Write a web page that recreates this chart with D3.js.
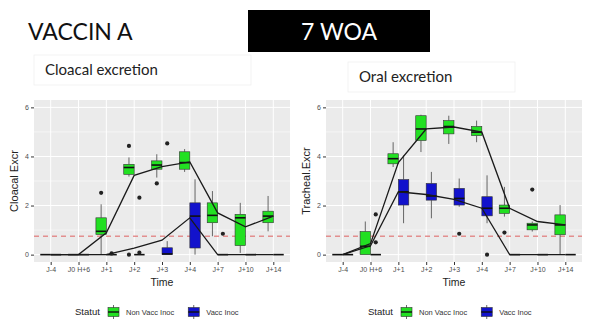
<!DOCTYPE html>
<html>
<head>
<meta charset="utf-8">
<script src="https://cdn.jsdelivr.net/npm/d3@7"></script>
<style>
  html, body { margin: 0; padding: 0; background: #fff; }
  svg { display: block; }
</style>
</head>
<body>
<svg id="chart" width="590" height="325"></svg>
<script>
// Sampling days (discrete x axis)
const days = ["J-4", "J0 H+6", "J+1", "J+2", "J+3", "J+4", "J+7", "J+10", "J+14"];
const groups = ["Non Vacc Inoc", "Vacc Inoc"];
const threshold = 0.75;
const yTicks = [0, 2, 4, 6];

// Box summaries per day: [lower whisker, Q1, median, Q3, upper whisker]
const cloacalNonVacc = [
  [0, 0, 0, 0, 0], [0, 0, 0, 0, 0], [0, 0.82, 0.95, 1.5, 2.05],
  [3.18, 3.27, 3.55, 3.68, 3.96], [3.14, 3.48, 3.65, 3.82, 4.09], [3.37, 3.48, 3.75, 4.19, 4.3],
  [0.75, 1.3, 1.6, 2.11, 2.59], [0.07, 0.37, 1.5, 1.64, 2.11], [0.95, 1.3, 1.57, 1.77, 2.39]
];
const cloacalVacc = [
  [0, 0, 0, 0, 0], [0, 0, 0, 0, 0], [0, 0, 0, 0, 0],
  [0, 0, 0, 0, 0], [0, 0, 0.03, 0.28, 0.55], [0, 0.27, 1.57, 2.11, 3.07],
  [0, 0, 0, 0, 0], [0, 0, 0, 0, 0], [0, 0, 0, 0, 0]
];
// Group means per day (joined by a line)
const cloacalNonVaccMean = [0, 0, 0.89, 3.23, 3.59, 3.78, 1.7, 1.13, 1.57];
const cloacalVaccMean = [0, 0, 0, 0.27, 0.59, 1.5, 0, 0, 0];
// Outliers: [day index, value]
const cloacalNonVaccOut = [[2, 2.52], [3, 4.43], [3, 0], [4, 2.9]];
const cloacalVaccOut = [[2, 0.05], [3, 2.32], [3, 0.08], [4, 4.53], [6, 0.85]];

const trachealNonVacc = [
  [0, 0, 0, 0, 0], [0, 0, 0.34, 0.94, 1.35], [3.57, 3.7, 3.91, 4.11, 4.58],
  [4.18, 4.65, 5.12, 5.66, 5.7], [4.51, 4.92, 5.22, 5.46, 5.66], [4.58, 4.85, 4.99, 5.22, 5.46],
  [1.55, 1.68, 1.89, 2.02, 2.76], [0.94, 1.01, 1.21, 1.28, 1.35], [0, 0.81, 1.21, 1.62, 2.02]
];
const trachealVacc = [
  [0, 0, 0, 0, 0], [0, 0, 0, 0, 0], [1.28, 2.02, 2.56, 3.06, 4.04],
  [1.48, 2.22, 2.39, 2.9, 3.37], [1.95, 2.02, 2.29, 2.7, 3.1], [1.28, 1.58, 1.89, 2.36, 3.23],
  [0, 0, 0, 0, 0], [0, 0, 0, 0, 0], [0, 0, 0, 0, 0]
];
const trachealNonVaccMean = [0, 0.45, 3.75, 5.12, 5.2, 4.99, 1.89, 1.35, 1.21];
const trachealVaccMean = [0, 0.36, 2.56, 2.45, 2.25, 1.89, 0, 0, 0];
const trachealNonVaccOut = [[6, 0.9], [7, 2.65]];
const trachealVaccOut = [[1, 1.64], [1, 0.5], [4, 0.85], [5, 0]];

const fills = { "Non Vacc Inoc": "#22e022", "Vacc Inoc": "#1212cc" };

const svg = d3.select("#chart");
const headFont = "Lato, 'Open Sans', sans-serif";
const plotFont = "'Liberation Sans', Arial, sans-serif";

// Header
svg.append("text").attr("x", 28).attr("y", 40)
  .attr("font-family", headFont).attr("font-size", 23).attr("fill", "#111")
  .text("VACCIN A");
svg.append("rect").attr("x", 248).attr("y", 10).attr("width", 182).attr("height", 42).attr("fill", "#000");
svg.append("text").attr("x", 339).attr("y", 40).attr("text-anchor", "middle")
  .attr("font-family", headFont).attr("font-size", 23).attr("fill", "#fff")
  .text("7 WOA");

function subtitle(x, y, w, h, label) {
  svg.append("rect").attr("x", x).attr("y", y).attr("width", w).attr("height", h)
    .attr("fill", "#fff").attr("stroke", "#f0f0f0").attr("stroke-width", 0.8);
  svg.append("text").attr("x", x + 11).attr("y", y + h / 2 + 5)
    .attr("font-family", headFont).attr("font-size", 15).attr("fill", "#222")
    .text(label);
}
subtitle(34, 55, 217, 30, "Cloacal excretion");
subtitle(348, 62, 167, 30, "Oral excretion");

function panel(cfg) {
  const g = svg.append("g");
  const top = 100, bottom = 262;
  const x = d3.scalePoint().domain(days).range([cfg.x0, cfg.x1]).padding(0.6);
  const y = d3.scaleLinear().domain([-0.3, 6.3]).range([bottom, top]);
  const step = x.step();
  const bw = step * 0.375;
  const offset = { "Non Vacc Inoc": -step * 0.1875, "Vacc Inoc": step * 0.1875 };

  // Panel background and grid
  g.append("rect").attr("x", cfg.x0).attr("y", top)
    .attr("width", cfg.x1 - cfg.x0).attr("height", bottom - top).attr("fill", "#ebebeb");
  [1, 3, 5].forEach(v => g.append("line")
    .attr("x1", cfg.x0).attr("x2", cfg.x1).attr("y1", y(v)).attr("y2", y(v))
    .attr("stroke", "#fff").attr("stroke-width", 0.5));
  yTicks.forEach(v => g.append("line")
    .attr("x1", cfg.x0).attr("x2", cfg.x1).attr("y1", y(v)).attr("y2", y(v))
    .attr("stroke", "#fff").attr("stroke-width", 1));
  days.forEach(d => g.append("line")
    .attr("x1", x(d)).attr("x2", x(d)).attr("y1", top).attr("y2", bottom)
    .attr("stroke", "#fff").attr("stroke-width", 1));

  // Axes
  const yAxis = g.append("g").attr("transform", `translate(${cfg.x0},0)`)
    .call(d3.axisLeft(y).tickValues(yTicks).tickFormat(d3.format("d")).tickSize(3).tickPadding(2));
  const xAxis = g.append("g").attr("transform", `translate(0,${bottom})`)
    .call(d3.axisBottom(x).tickSize(3).tickPadding(2));
  [yAxis, xAxis].forEach(a => {
    a.select(".domain").remove();
    a.selectAll(".tick line").attr("stroke", "#333");
    a.selectAll(".tick text").attr("fill", "#4d4d4d").attr("font-size", 7).attr("font-family", plotFont);
  });

  g.append("text").attr("x", (cfg.x0 + cfg.x1) / 2).attr("y", 286).attr("text-anchor", "middle")
    .attr("font-family", plotFont).attr("font-size", 10.5).attr("fill", "#222").text("Time");
  g.append("text").attr("transform", `translate(${cfg.x0 - 16},${(top + bottom) / 2}) rotate(-90)`)
    .attr("text-anchor", "middle").attr("font-family", plotFont).attr("font-size", 11)
    .attr("fill", "#222").text(cfg.ylabel);

  // Threshold
  g.append("line").attr("x1", cfg.x0).attr("x2", cfg.x1)
    .attr("y1", y(threshold)).attr("y2", y(threshold))
    .attr("stroke", "#e07070").attr("stroke-opacity", 0.75)
    .attr("stroke-width", 1.6).attr("stroke-dasharray", "5,4");

  // Boxplots
  cfg.series.forEach(s => {
    const bg = g.append("g");
    s.boxes.forEach((b, i) => {
      const cx = x(days[i]) + offset[s.group];
      const [lo, q1, med, q3, hi] = b;
      bg.append("line").attr("x1", cx).attr("x2", cx).attr("y1", y(hi)).attr("y2", y(q3))
        .attr("stroke", "#444").attr("stroke-width", 0.8);
      bg.append("line").attr("x1", cx).attr("x2", cx).attr("y1", y(q1)).attr("y2", y(lo))
        .attr("stroke", "#444").attr("stroke-width", 0.8);
      bg.append("rect").attr("x", cx - bw / 2).attr("width", bw)
        .attr("y", y(q3)).attr("height", Math.max(0, y(q1) - y(q3)))
        .attr("fill", fills[s.group]).attr("stroke", "#333").attr("stroke-width", 0.6);
      bg.append("line").attr("x1", cx - bw / 2).attr("x2", cx + bw / 2)
        .attr("y1", y(med)).attr("y2", y(med))
        .attr("stroke", "#111").attr("stroke-width", 1.6);
    });
    s.outliers.forEach(([i, v]) => {
      bg.append("circle").attr("cx", x(days[i]) + offset[s.group]).attr("cy", y(v))
        .attr("r", 2.1).attr("fill", "#222");
    });
  });

  // Mean lines
  const line = d3.line().x((d, i) => x(days[i])).y(d => y(d));
  cfg.series.forEach(s => {
    g.append("path").datum(s.means).attr("d", line)
      .attr("fill", "none").attr("stroke", "#1a1a1a").attr("stroke-width", 1.3);
  });

  // Legend
  const lg = g.append("g").attr("transform", `translate(${cfg.legendX},0)`);
  lg.append("text").attr("x", 0).attr("y", 315).attr("font-family", plotFont)
    .attr("font-size", 9.5).attr("fill", "#222").text("Statut");
  let lx = 33;
  groups.forEach(gr => {
    lg.append("line").attr("x1", lx + 5.5).attr("x2", lx + 5.5).attr("y1", 305).attr("y2", 319)
      .attr("stroke", "#444").attr("stroke-width", 0.8);
    lg.append("rect").attr("x", lx).attr("y", 307.5).attr("width", 11).attr("height", 9)
      .attr("fill", fills[gr]).attr("stroke", "#333").attr("stroke-width", 0.6);
    lg.append("line").attr("x1", lx).attr("x2", lx + 11).attr("y1", 312).attr("y2", 312)
      .attr("stroke", "#111").attr("stroke-width", 1.4);
    const t = lg.append("text").attr("x", lx + 18).attr("y", 315).attr("font-family", plotFont)
      .attr("font-size", 7.5).attr("fill", "#333").text(gr);
    lx += 18 + t.node().getComputedTextLength() + 14;
  });
}

panel({
  x0: 34, x1: 290, ylabel: "Cloacal Excr", legendX: 75,
  series: [
    { group: "Non Vacc Inoc", boxes: cloacalNonVacc, means: cloacalNonVaccMean, outliers: cloacalNonVaccOut },
    { group: "Vacc Inoc", boxes: cloacalVacc, means: cloacalVaccMean, outliers: cloacalVaccOut }
  ]
});
panel({
  x0: 326, x1: 582, ylabel: "Tracheal.Excr", legendX: 368,
  series: [
    { group: "Non Vacc Inoc", boxes: trachealNonVacc, means: trachealNonVaccMean, outliers: trachealNonVaccOut },
    { group: "Vacc Inoc", boxes: trachealVacc, means: trachealVaccMean, outliers: trachealVaccOut }
  ]
});
</script>
</body>
</html>
